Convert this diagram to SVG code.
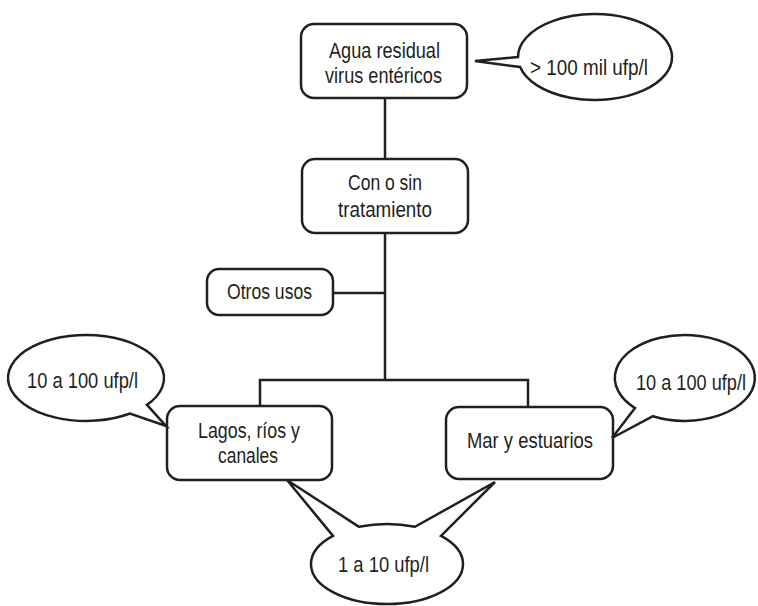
<svg xmlns="http://www.w3.org/2000/svg" width="758" height="606" viewBox="0 0 758 606">
<style>
.box{fill:#fff;stroke:#231f20;stroke-width:2.5}
.bub{fill:#fff;stroke:#231f20;stroke-width:2.5;stroke-linejoin:miter}
.ln{fill:none;stroke:#231f20;stroke-width:2.5}
text{font-family:"Liberation Sans",Arial,sans-serif;font-size:22px;fill:#231f20;text-anchor:middle}
</style>
<rect width="758" height="606" fill="#fff"/>
<g id="connectors">
<line class="ln" x1="385" y1="98" x2="385" y2="159"/>
<line class="ln" x1="385" y1="233" x2="385" y2="380"/>
<line class="ln" x1="333" y1="293" x2="385" y2="293"/>
<polyline class="ln" points="260,406 260,380 528,380 528,407"/>
</g>
<g id="node-agua">
<rect class="box" x="301" y="24" width="166" height="74" rx="13"/>
<text x="384.5" y="58" textLength="111" lengthAdjust="spacingAndGlyphs">Agua residual</text>
<text x="383.5" y="83" textLength="117" lengthAdjust="spacingAndGlyphs">virus entéricos</text>
</g>
<g id="bubble-top">
<path class="bub" d="M518,57 L475,61 L520.1,67 A77,43 0 1 0 518,57 Z"/>
<text x="589" y="75" textLength="118" lengthAdjust="spacingAndGlyphs">&gt; 100 mil ufp/l</text>
</g>
<g id="node-tratamiento">
<rect class="box" x="302" y="159" width="166" height="74" rx="13"/>
<text x="385" y="190" textLength="74" lengthAdjust="spacingAndGlyphs">Con o sin</text>
<text x="385" y="217" textLength="94" lengthAdjust="spacingAndGlyphs">tratamiento</text>
</g>
<g id="node-otros">
<rect class="box" x="207" y="269" width="126" height="46" rx="12"/>
<text x="269.5" y="299" textLength="85" lengthAdjust="spacingAndGlyphs">Otros usos</text>
</g>
<g id="node-lagos">
<rect class="box" x="167" y="406" width="165" height="74" rx="13"/>
<text x="249" y="438" textLength="102" lengthAdjust="spacingAndGlyphs">Lagos, ríos y</text>
<text x="248" y="463" textLength="60" lengthAdjust="spacingAndGlyphs">canales</text>
</g>
<g id="node-mar">
<rect class="box" x="446" y="407" width="167" height="72" rx="13"/>
<text x="530" y="448" textLength="126" lengthAdjust="spacingAndGlyphs">Mar y estuarios</text>
</g>
<g id="bubble-left">
<path class="bub" d="M147,404.8 L166,426 L130,413.5 A78,43 0 1 1 147,404.8 Z"/>
<text x="82.5" y="388" textLength="111" lengthAdjust="spacingAndGlyphs">10 a 100 ufp/l</text>
</g>
<g id="bubble-right">
<path class="bub" d="M635,408.1 L612,438 L653,416.2 A70,43 0 1 0 635,408.1 Z"/>
<text x="691" y="390" textLength="110" lengthAdjust="spacingAndGlyphs">10 a 100 ufp/l</text>
</g>
<g id="bubble-bottom">
<path class="bub" d="M333,535.9 L287,480 L359,526.8 A76,40 0 0 1 415,526.8 L495,482 L441,535.9 A76,40 0 1 1 333,535.9 Z"/>
<text x="383.5" y="572" textLength="91" lengthAdjust="spacingAndGlyphs">1 a 10 ufp/l</text>
</g>
</svg>
